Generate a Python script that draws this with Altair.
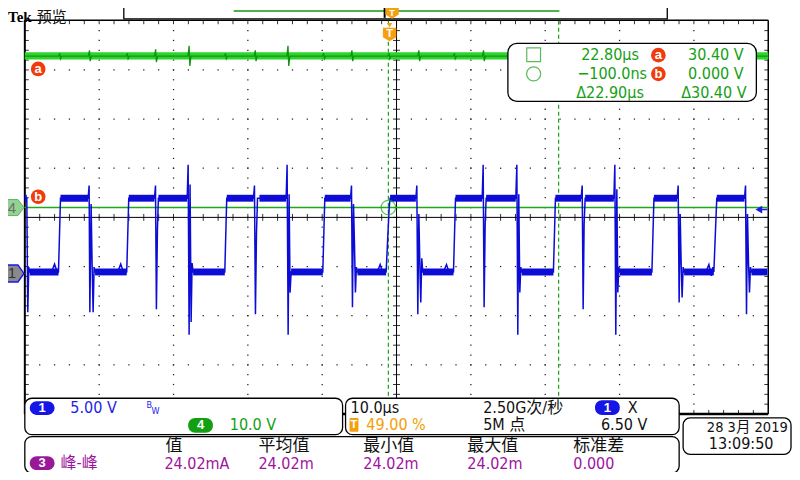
import altair as alt
import pandas as pd

# ---------------- screen geometry (reference pixels) ----------------
SCREEN_X = [4, 796]
SCREEN_Y = [4, 476]
TIME_DOMAIN = [-51.26, 54.19]   # µs visible across the screen (10 µs/div, trigger at 49 %)
CH1_DOMAIN = [-20.25, 26.95]    # V, channel 1 at 5 V/div
CH4_DOMAIN = [-53.8, 40.6]      # V, channel 4 at 10 V/div

# ---------------- channel 1 (blue) waveform vertices ----------------
CH1_T = [
    -49.00, -48.73, -48.60, -48.47, -48.34,
    -45.40, -45.00, -44.60, -44.47, -44.20,
    -40.48, -40.35, -40.25, -40.08, -39.95, -39.81, -39.68, -39.55,
    -36.50, -36.10, -35.70, -35.29, -35.02,
    -31.56, -31.42, -31.30, -31.16, -31.03,
    -27.16, -27.03, -26.90, -26.77, -26.63, -26.50, -26.36,
    -22.10, -21.84,
    -18.24, -18.11, -17.98, -17.84, -17.70, -17.44,
    -13.85, -13.72, -13.58, -13.45, -13.32, -13.18,
    -8.92, -8.65,
    -5.19, -5.06, -4.93, -4.79, -4.66, -4.53, -4.40, -4.26,
    -1.60, -1.20, -0.85, -0.40, 0.00, 0.13,
    3.60, 3.73, 3.86, 4.00, 4.13, 4.26, 4.39, 4.53,
    7.30, 7.72, 8.10, 8.66, 8.93,
    12.52, 12.65, 12.78, 12.92, 13.05,
    17.04, 17.18, 17.31, 17.44, 17.58, 17.71, 17.84,
    22.10, 22.37,
    25.83, 25.97, 26.10, 26.23, 26.37,
    30.23, 30.36, 30.49, 30.63, 30.76, 30.90, 31.03,
    35.35, 35.62,
    38.75, 38.88, 39.01, 39.15, 39.28, 39.41, 39.55, 39.68,
    42.60, 43.01, 43.35, 43.55, 43.68, 44.07,
    47.80, 47.94, 48.07, 48.20, 48.34, 48.47, 48.60, 48.74,
    50.87,
]
CH1_V = [
    7.6, 7.6, -4.0, 0.6, 0.1,
    0.1, 0.9, 0.0, 0.1, 7.6,
    7.6, 8.9, -4.0, 7.0, 1.0, -4.0, 0.6, 0.1,
    0.1, 0.9, 0.0, 0.1, 7.6,
    7.6, 8.9, -3.7, 4.5, 7.6,
    7.6, 11.0, -6.3, 9.0, -5.0, 1.0, 0.1,
    0.1, 7.6,
    7.6, 8.9, -4.2, 4.0, 7.6, 7.6,
    7.6, 11.0, -6.3, 8.0, -2.0, 0.1,
    0.1, 7.6,
    7.6, 8.9, -3.5, 7.0, 3.0, -2.0, 0.6, 0.1,
    0.1, 0.85, 0.0, 0.1, 6.5, 7.6,
    7.6, 8.9, -4.2, 6.0, 1.0, -3.0, 1.5, 0.1,
    0.1, 0.85, 0.0, 0.1, 7.6,
    7.6, 11.0, -3.5, 5.0, 7.6,
    7.6, 11.0, -6.3, 8.0, -2.0, 0.6, 0.1,
    0.1, 7.6,
    7.6, 8.9, -3.7, 5.0, 7.6,
    7.6, 11.0, -6.3, 8.5, -2.0, 0.6, 0.1,
    0.1, 7.6,
    7.6, 8.9, -3.0, 6.0, 1.0, -2.5, 0.6, 0.1,
    0.1, 0.85, -0.3, 0.6, 0.1, 7.6,
    7.6, 8.9, -4.2, 6.0, 1.0, -2.0, 0.6, 0.1,
    0.1,
]
assert len(CH1_T) == len(CH1_V)

# plateaus of channel 1 (noise band)
HIGH_T0 = [-49.00, -44.20, -35.02, -31.03, -21.84, -17.44, -8.65, 0.13, 8.93, 13.05, 22.37, 26.37, 35.62, 44.07]
HIGH_T1 = [-48.73, -40.48, -31.56, -27.16, -18.24, -13.85, -5.19, 3.60, 12.52, 17.04, 25.83, 30.23, 38.75, 47.80]
LOW_T0 = [-48.34, -39.55, -26.36, -13.18, -4.26, 4.53, 17.84, 31.03, 39.68, 48.74]
LOW_T1 = [-44.47, -35.29, -22.10, -8.92, -0.40, 8.66, 22.10, 35.35, 43.68, 50.87]
HIGH_LEVEL = 7.6
LOW_LEVEL = 0.1

# ---------------- channel 4 (green) ----------------
CH4_LEVEL = 30.8
CH4_EVT_T = [-44.3, -40.3, -35.2, -31.4, -26.9, -22.0, -18.0, -13.6, -8.8, -5.0, 0.0,
             4.0, 8.8, 12.7, 17.3, 22.2, 26.0, 30.5, 35.5, 39.1, 43.9, 48.1]
CH4_EVT_UP = [0.6, 1.2, 0.6, 1.4, 2.1, 0.6, 1.2, 2.1, 0.6, 1.2, 0.6,
              1.2, 0.6, 1.2, 2.0, 0.6, 1.2, 2.0, 0.6, 1.2, 0.6, 1.2]
CH4_EVT_DN = [0.5, 1.0, 0.5, 1.2, 2.0, 0.5, 1.0, 2.0, 0.5, 1.0, 0.5,
              1.0, 0.5, 1.0, 1.8, 0.5, 1.0, 1.8, 0.5, 1.0, 0.5, 1.0]

# ---------------- cursors ----------------
CURSOR_T = [-0.1, 22.8]       # µs
CURSOR_V = [30.4, 0.0]        # V on channel 4

# ---------------- texts ----------------
NUM_TEXT = ["22.80µs", "−100.0ns", "Δ22.90µs", "30.40 V", "0.000 V", "Δ30.40 V",
            "5.00 V", "10.0 V", "10.0µs", "2.50G次/秒", "X", "49.00 %", "5M 点", "6.50 V",
            "28 3月 2019", "13:09:50",
            "24.02mA", "24.02m", "24.02m", "24.02m", "0.000", "峰-峰", "B", "W"]
NUM_X = [583, 579, 578, 691, 691, 684,
         67, 228, 350, 484, 630, 366, 484, 603,
         710, 712,
         162, 257, 363, 468, 575, 57, 144, 149]
NUM_Y = [52, 71, 90, 52, 71, 90,
         411, 428, 411, 411, 411, 428, 428, 428,
         431, 448,
         468, 468, 468, 468, 468, 467, 408, 414]
GRN, BLU, BLK, ORG, PUR = "#14a014", "#1e1ee6", "#111111", "#f2a000", "#a012a0"
NUM_COLOR = [GRN] * 6 + [BLU, GRN, BLK, BLK, BLK, ORG, BLK, BLK, BLK, BLK] + [PUR] * 6 + [BLU, BLU]
NUM_SIZE = [16] * 14 + [14.5, 16] + [16] * 6 + [9, 9]

HDR_TEXT = ["值", "平均值", "最小值", "最大值", "标准差", "预览"]
HDR_X = [163, 257, 363, 468, 575, 33]
HDR_Y = [450, 450, 450, 450, 450, 13]
HDR_SIZE = [17, 17, 17, 17, 17, 15]

BADGE_TEXT = ["1", "4", "1", "3", "T", "a", "b", "a", "b", "T", "T"]
BADGE_X = [38.5, 198.5, 609.5, 38.5, 353.5, 34.5, 34.5, 661, 661, 389.5, 392]
BADGE_Y = [411, 428.5, 410.5, 467, 428, 66, 196, 52, 71, 30, 9]
BADGE_SIZE = [13, 13, 13, 13, 11, 13, 13, 13, 13, 11, 9]

# panels (reference pixels)
PANEL_X0 = [21, 345, 686, 21, 509, 121]
PANEL_X1 = [342, 682, 795, 682, 760, 670]
PANEL_Y0 = [401, 401, 421, 440, 40, -3]
PANEL_Y1 = [438, 438, 458, 477, 99, 15]
PANEL_R = [7, 7, 7, 7, 9, 0]

PILL_X0 = [26, 186, 597, 26]
PILL_X1 = [51, 211, 622, 51]
PILL_Y0 = [404, 421, 403, 460]
PILL_Y1 = [418, 436, 418, 474]
PILL_C = ["#1515e6", "#12a012", "#1515e6", "#981898"]

# graticule
GRID_COLS = [96.1, 171.2, 246.3, 321.4, 471.6, 546.7, 621.8, 696.9]
GRID_ROWS = [67, 117, 167, 267, 317, 367]
GRAT_LEFT, GRAT_RIGHT, GRAT_TOP, GRAT_BOTTOM = 21, 772, 16.5, 417
CENTER_X, CENTER_Y = 396.5, 217


# ---------------- helpers ----------------
def sx(f="x"):
    return alt.X(f"{f}:Q", scale=alt.Scale(domain=SCREEN_X, nice=False, zero=False), axis=None)


def sy(f="y"):
    return alt.Y(f"{f}:Q", scale=alt.Scale(domain=SCREEN_Y, nice=False, zero=False, reverse=True), axis=None)


def tx(f="t"):
    return alt.X(f"{f}:Q", scale=alt.Scale(domain=TIME_DOMAIN, nice=False, zero=False), axis=None)


def vy(f, dom):
    return alt.Y(f"{f}:Q", scale=alt.Scale(domain=dom, nice=False, zero=False), axis=None)


layers = []

# graticule dots
dots = [(cx, 17 + 10 * j) for cx in GRID_COLS for j in range(1, 40)]
dots += [(GRAT_LEFT + 15.02 * i, ry) for ry in GRID_ROWS for i in range(1, 50)]
dots_df = pd.DataFrame(dots, columns=["x", "y"])
layers.append(alt.Chart(dots_df).mark_square(size=1.6, color="#222", opacity=1).encode(x=sx(), y=sy()))

# ticks
ticks = []
for j in range(1, 40):
    y = 17 + 10 * j
    ticks += [(GRAT_LEFT, GRAT_LEFT + 4, y, y), (GRAT_RIGHT - 4, GRAT_RIGHT, y, y), (CENTER_X - 3.5, CENTER_X + 3.5, y, y)]
for i in range(1, 50):
    x = GRAT_LEFT + 15.02 * i
    ticks += [(x, x, GRAT_TOP, GRAT_TOP + 4), (x, x, GRAT_BOTTOM - 4, GRAT_BOTTOM), (x, x, CENTER_Y - 3.5, CENTER_Y + 3.5)]
ticks_df = pd.DataFrame(ticks, columns=["x", "x2", "y", "y2"])
layers.append(alt.Chart(ticks_df).mark_rule(color="#333", strokeWidth=1).encode(
    x=sx(), x2="x2:Q", y=sy(), y2="y2:Q"))

# center cross and border
lines_df = pd.DataFrame({
    "x": [GRAT_LEFT, CENTER_X, GRAT_LEFT, GRAT_LEFT, GRAT_RIGHT, GRAT_LEFT],
    "x2": [GRAT_RIGHT, CENTER_X, GRAT_RIGHT, GRAT_RIGHT, GRAT_RIGHT, GRAT_LEFT],
    "y": [CENTER_Y, GRAT_TOP, GRAT_TOP, GRAT_BOTTOM, GRAT_TOP, GRAT_TOP],
    "y2": [CENTER_Y, GRAT_BOTTOM, GRAT_TOP, GRAT_BOTTOM, GRAT_BOTTOM, GRAT_BOTTOM],
    "w": [1, 1, 1.5, 2.5, 1.5, 2],
})
layers.append(alt.Chart(lines_df).mark_rule(color="#000").encode(
    x=sx(), x2="x2:Q", y=sy(), y2="y2:Q", strokeWidth=alt.StrokeWidth("w:Q", scale=None)))

# cursors
cur_v_df = pd.DataFrame({"t": CURSOR_T, "v0": [38.0, 38.0], "v1": [-42.0, -42.0]})
layers.append(alt.Chart(cur_v_df).mark_rule(color="#16a516", strokeWidth=1.2, strokeDash=[4, 3]).encode(
    x=tx(), y=vy("v0", CH4_DOMAIN), y2="v1:Q"))
cur_h_df = pd.DataFrame({"v": CURSOR_V, "t0": [-49.0, -49.0], "t1": [51.0, 51.0]})
layers.append(alt.Chart(cur_h_df).mark_rule(color="#1aaa1a", strokeWidth=1.5).encode(
    x=tx("t0"), x2="t1:Q", y=vy("v", CH4_DOMAIN)))

# channel 4 trace
g_pts = [(-49.0, CH4_LEVEL)]
for t, u, d in zip(CH4_EVT_T, CH4_EVT_UP, CH4_EVT_DN):
    g_pts += [(t - 0.15, CH4_LEVEL), (t, CH4_LEVEL + u), (t + 0.1, CH4_LEVEL - d), (t + 0.25, CH4_LEVEL)]
g_pts.append((51.0, CH4_LEVEL))
g_df = pd.DataFrame(g_pts, columns=["t", "v"]).reset_index()
band4 = pd.DataFrame({"t0": [-49.0], "t1": [51.0], "v0": [CH4_LEVEL - 0.7], "v1": [CH4_LEVEL + 0.8]})
layers.append(alt.Chart(band4).mark_rect(color="#2ed42e").encode(
    x=tx("t0"), x2="t1:Q", y=vy("v0", CH4_DOMAIN), y2="v1:Q"))
layers.append(alt.Chart(g_df).mark_line(color="#0f960f", strokeWidth=1.3).encode(
    x=tx(), y=vy("v", CH4_DOMAIN), order="index:Q"))

# channel 1 trace
bands1 = pd.DataFrame({
    "t0": HIGH_T0 + LOW_T0,
    "t1": HIGH_T1 + LOW_T1,
    "lvl": [HIGH_LEVEL] * len(HIGH_T0) + [LOW_LEVEL] * len(LOW_T0),
})
layers.append(alt.Chart(bands1).transform_calculate(
    v0="datum.lvl - 0.35", v1="datum.lvl + 0.35").mark_rect(color="#0c0cd6").encode(
    x=tx("t0"), x2="t1:Q", y=vy("v0", CH1_DOMAIN), y2="v1:Q"))
ch1_df = pd.DataFrame({"t": CH1_T, "v": CH1_V}).reset_index()
layers.append(alt.Chart(ch1_df).mark_line(color="#0c0cd6", strokeWidth=1.5).encode(
    x=tx(), y=vy("v", CH1_DOMAIN), order="index:Q"))

# cursor circle marker at intersection
layers.append(alt.Chart(pd.DataFrame({"t": [CURSOR_T[0]], "v": [CURSOR_V[1]]})).mark_point(
    shape="circle", size=210, filled=False, color="#16a516", strokeWidth=1.2).encode(
    x=tx(), y=vy("v", CH4_DOMAIN)))

# panels
panels = pd.DataFrame({"x": PANEL_X0, "x2": PANEL_X1, "y": PANEL_Y0, "y2": PANEL_Y1, "r": PANEL_R})
for r in sorted(set(PANEL_R)):
    sub = panels[panels.r == r]
    layers.append(alt.Chart(sub).mark_rect(fill="white", stroke="black", strokeWidth=1.3, cornerRadius=r).encode(
        x=sx(), x2="x2:Q", y=sy(), y2="y2:Q"))

# green record line inside top bar + bracket
rec_df = pd.DataFrame({"x": [232, 384.5], "x2": [561, 384.5], "y": [7, 1], "y2": [7, 14],
                       "c": ["#129a12", "#000000"], "w": [1.5, 2]})
layers.append(alt.Chart(rec_df).mark_rule().encode(
    x=sx(), x2="x2:Q", y=sy(), y2="y2:Q", color=alt.Color("c:N", scale=None),
    strokeWidth=alt.StrokeWidth("w:Q", scale=None)))

# pills / badges
pills = pd.DataFrame({"x": PILL_X0, "x2": PILL_X1, "y": PILL_Y0, "y2": PILL_Y1, "c": PILL_C})
layers.append(alt.Chart(pills).mark_rect(cornerRadius=7).encode(
    x=sx(), x2="x2:Q", y=sy(), y2="y2:Q", color=alt.Color("c:N", scale=None)))
tbadge = pd.DataFrame({"x": [349], "x2": [358], "y": [421], "y2": [435]})
layers.append(alt.Chart(tbadge).mark_rect(color="#f2a010", cornerRadius=1).encode(
    x=sx(), x2="x2:Q", y=sy(), y2="y2:Q"))

# red a / b markers
ab_df = pd.DataFrame({"x": [34.5, 34.5, 661, 661], "y": [66, 196, 52, 71]})
layers.append(alt.Chart(ab_df).mark_circle(size=215, color="#f03c0c", opacity=1).encode(x=sx(), y=sy()))

# readout square / circle
layers.append(alt.Chart(pd.DataFrame({"x": [535], "y": [51.5]})).mark_point(
    shape="square", size=190, filled=False, color=GRN, strokeWidth=1.2).encode(x=sx(), y=sy()))
layers.append(alt.Chart(pd.DataFrame({"x": [535], "y": [71]})).mark_point(
    shape="circle", size=200, filled=False, color=GRN, strokeWidth=1.2).encode(x=sx(), y=sy()))

# channel ground markers
layers.append(alt.Chart(pd.DataFrame({"x": [10], "y": [207]})).mark_point(
    shape="M-1,-0.8L0.4,-0.8L1,0L0.4,0.8L-1,0.8Z", size=400, filled=True, fill="#92d292",
    stroke="#5fb35f", strokeWidth=1, opacity=1).encode(x=sx(), y=sy()))
layers.append(alt.Chart(pd.DataFrame({"x": [10], "y": [274]})).mark_point(
    shape="M-1,-0.85L0.4,-0.85L1,0L0.4,0.85L-1,0.85Z", size=400, filled=True, fill="#8a8a8a",
    stroke="#1a1ae6", strokeWidth=1.5, opacity=1).encode(x=sx(), y=sy()))

# trigger level arrow (right)
layers.append(alt.Chart(pd.DataFrame({"x": [762.5], "y": [209]})).mark_point(
    shape="triangle-left", size=60, filled=True, color="#1a1ae6", opacity=1).encode(x=sx(), y=sy()))
layers.append(alt.Chart(pd.DataFrame({"x": [765], "x2": [771], "y": [209]})).mark_rule(
    color="#1a1ae6", strokeWidth=1.5).encode(x=sx(), x2="x2:Q", y=sy()))

# trigger position markers (top)
layers.append(alt.Chart(pd.DataFrame({"x": [389.5, 392], "y": [31, 8]})).mark_point(
    shape="M-1,-1L1,-1L1,0.4L0,1L-1,0.4Z", size=180, filled=True, color="#f5a012", opacity=1).encode(
    x=sx(), y=sy()))
layers.append(alt.Chart(pd.DataFrame({"x": [389.5], "y": [21.5]})).mark_point(
    shape="triangle-down", size=28, filled=True, color="#f5a012", opacity=1).encode(x=sx(), y=sy()))

# texts
num_df = pd.DataFrame({"x": NUM_X, "y": NUM_Y, "t": NUM_TEXT, "c": NUM_COLOR, "s": NUM_SIZE})
layers.append(alt.Chart(num_df).mark_text(
    font="Liberation Sans Narrow, DejaVu Sans Condensed, Liberation Sans, Noto Sans CJK SC",
    align="left", baseline="middle").encode(
    x=sx(), y=sy(), text="t:N", color=alt.Color("c:N", scale=None), size=alt.Size("s:Q", scale=None)))
hdr_df = pd.DataFrame({"x": HDR_X, "y": HDR_Y, "t": HDR_TEXT, "s": HDR_SIZE})
layers.append(alt.Chart(hdr_df).mark_text(font="Noto Sans CJK SC", align="left", baseline="middle",
                                          color="#111").encode(
    x=sx(), y=sy(), text="t:N", size=alt.Size("s:Q", scale=None)))
badge_df = pd.DataFrame({"x": BADGE_X, "y": BADGE_Y, "t": BADGE_TEXT, "s": BADGE_SIZE})
layers.append(alt.Chart(badge_df).mark_text(font="Liberation Sans", fontWeight="bold", align="center",
                                            baseline="middle", color="white").encode(
    x=sx(), y=sy(), text="t:N", size=alt.Size("s:Q", scale=None)))
mk_df = pd.DataFrame({"x": [8, 8], "y": [207, 274], "t": ["4", "1"], "c": ["#6e6e6e", "#333333"]})
layers.append(alt.Chart(mk_df).mark_text(font="Liberation Sans", fontSize=15, align="center",
                                         baseline="middle").encode(
    x=sx(), y=sy(), text="t:N", color=alt.Color("c:N", scale=None)))
layers.append(alt.Chart(pd.DataFrame({"x": [4], "y": [13], "t": ["Tek"]})).mark_text(
    font="Liberation Serif", fontWeight="bold", fontSize=15, align="left", baseline="middle",
    color="#000").encode(x=sx(), y=sy(), text="t:N"))

chart = alt.layer(*layers).resolve_scale(x="independent", y="independent").properties(
    width=784, height=464, padding=0, autosize=alt.AutoSizeParams(type="none"), background="white"
).configure_view(stroke=None)

chart.save("out.html", embed_options={"renderer": "svg", "actions": False})
